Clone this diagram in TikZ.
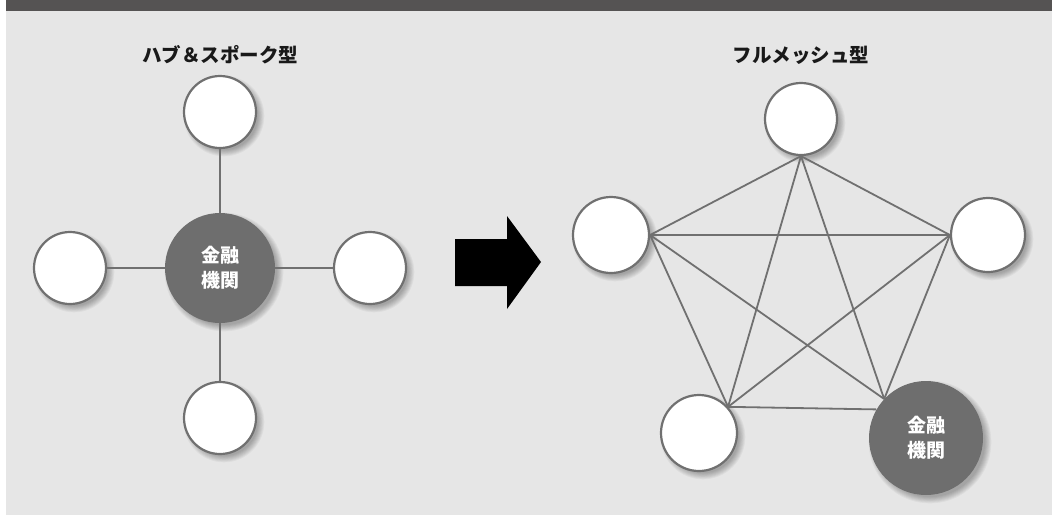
\documentclass[tikz,border=0pt]{standalone}
\usepackage{fontspec}
\setmainfont{Noto Sans CJK JP}
\usetikzlibrary{calc}
\definecolor{barcol}{HTML}{555353}
\definecolor{bgcol}{HTML}{E6E6E6}
\definecolor{hubcol}{HTML}{6E6E6E}
\definecolor{linecol}{HTML}{707070}
\tikzset{
  wc/.style={circle, draw=linecol, line width=2.2pt, fill=white, inner sep=0pt},
  hubc/.style={circle, fill=hubcol, inner sep=0pt, text=white, font=\fontsize{19}{25}\selectfont\bfseries, align=center},
  conn/.style={draw=linecol, line width=1.8pt},
  ttl/.style={font=\fontsize{19.5}{22}\selectfont\bfseries, text=black!90},
}
\newcommand{\softsh}[2]{%
  \foreach \k in {0,...,7}{%
    \fill[black, opacity=0.04] ($(#1)+(4,4)$) circle ({#2-2+\k*0.9});
  }%
}
\begin{document}
\begin{tikzpicture}[x=1pt,y=-1pt]
\useasboundingbox (0,0) rectangle (1052,515);
\fill[white] (0,0) rectangle (1052,515);
\fill[bgcol] (6,11) rectangle (1052,515);
\fill[barcol] (6,0) rectangle (1052,11);

% titles
\node[ttl] (t1) at (220,55) {ハブ＆スポーク型};
\node[ttl] (t2) at (801,55) {フルメッシュ型};

% hub and spoke
\softsh{220,268}{55}
\softsh{220,112}{36}
\softsh{70,268}{36}
\softsh{370,268}{36}
\softsh{220,418}{36}
\node[wc, minimum size=72pt] (a) at (220,112) {};
\node[wc, minimum size=72pt] (b) at (70,268) {};
\node[wc, minimum size=72pt] (c) at (370,268) {};
\node[wc, minimum size=72pt] (d) at (220,418) {};
\node[hubc, minimum size=110pt] (h1) at (220,268) {金融\\機関};
\draw[conn] (h1) -- (a);
\draw[conn] (h1) -- (b);
\draw[conn] (h1) -- (c);
\draw[conn] (h1) -- (d);

% arrow
\fill[black] (455,239) -- (507,239) -- (507,216) -- (541,262) -- (507,309) -- (507,286) -- (455,286) -- cycle;

% full mesh
\softsh{801,119}{36}
\softsh{611,235}{38}
\softsh{988,235}{37}
\softsh{699,433}{38}
\softsh{926,438}{57}
\node[wc, minimum size=72pt] (T) at (801,119) {};
\node[wc, minimum size=76pt] (L) at (611,235) {};
\node[wc, minimum size=74pt] (R) at (988,235) {};
\node[wc, minimum size=76pt] (B) at (699,433) {};
\node[hubc, minimum size=114pt] (H) at (926,438) {金融\\機関};
\draw[conn] (T.south) -- (L.east);
\draw[conn] (T.south) -- (R.west);
\draw[conn] (T.south) -- (B.42);
\draw[conn] (T.south) -- (H.137);
\draw[conn] (L.east) -- (R.west);
\draw[conn] (L.east) -- (B.42);
\draw[conn] (L.east) -- (H.137);
\draw[conn] (R.west) -- (B.42);
\draw[conn] (R.west) -- (H.137);
\draw[conn] (B.42) -- (H.150);
\end{tikzpicture}
\end{document}
